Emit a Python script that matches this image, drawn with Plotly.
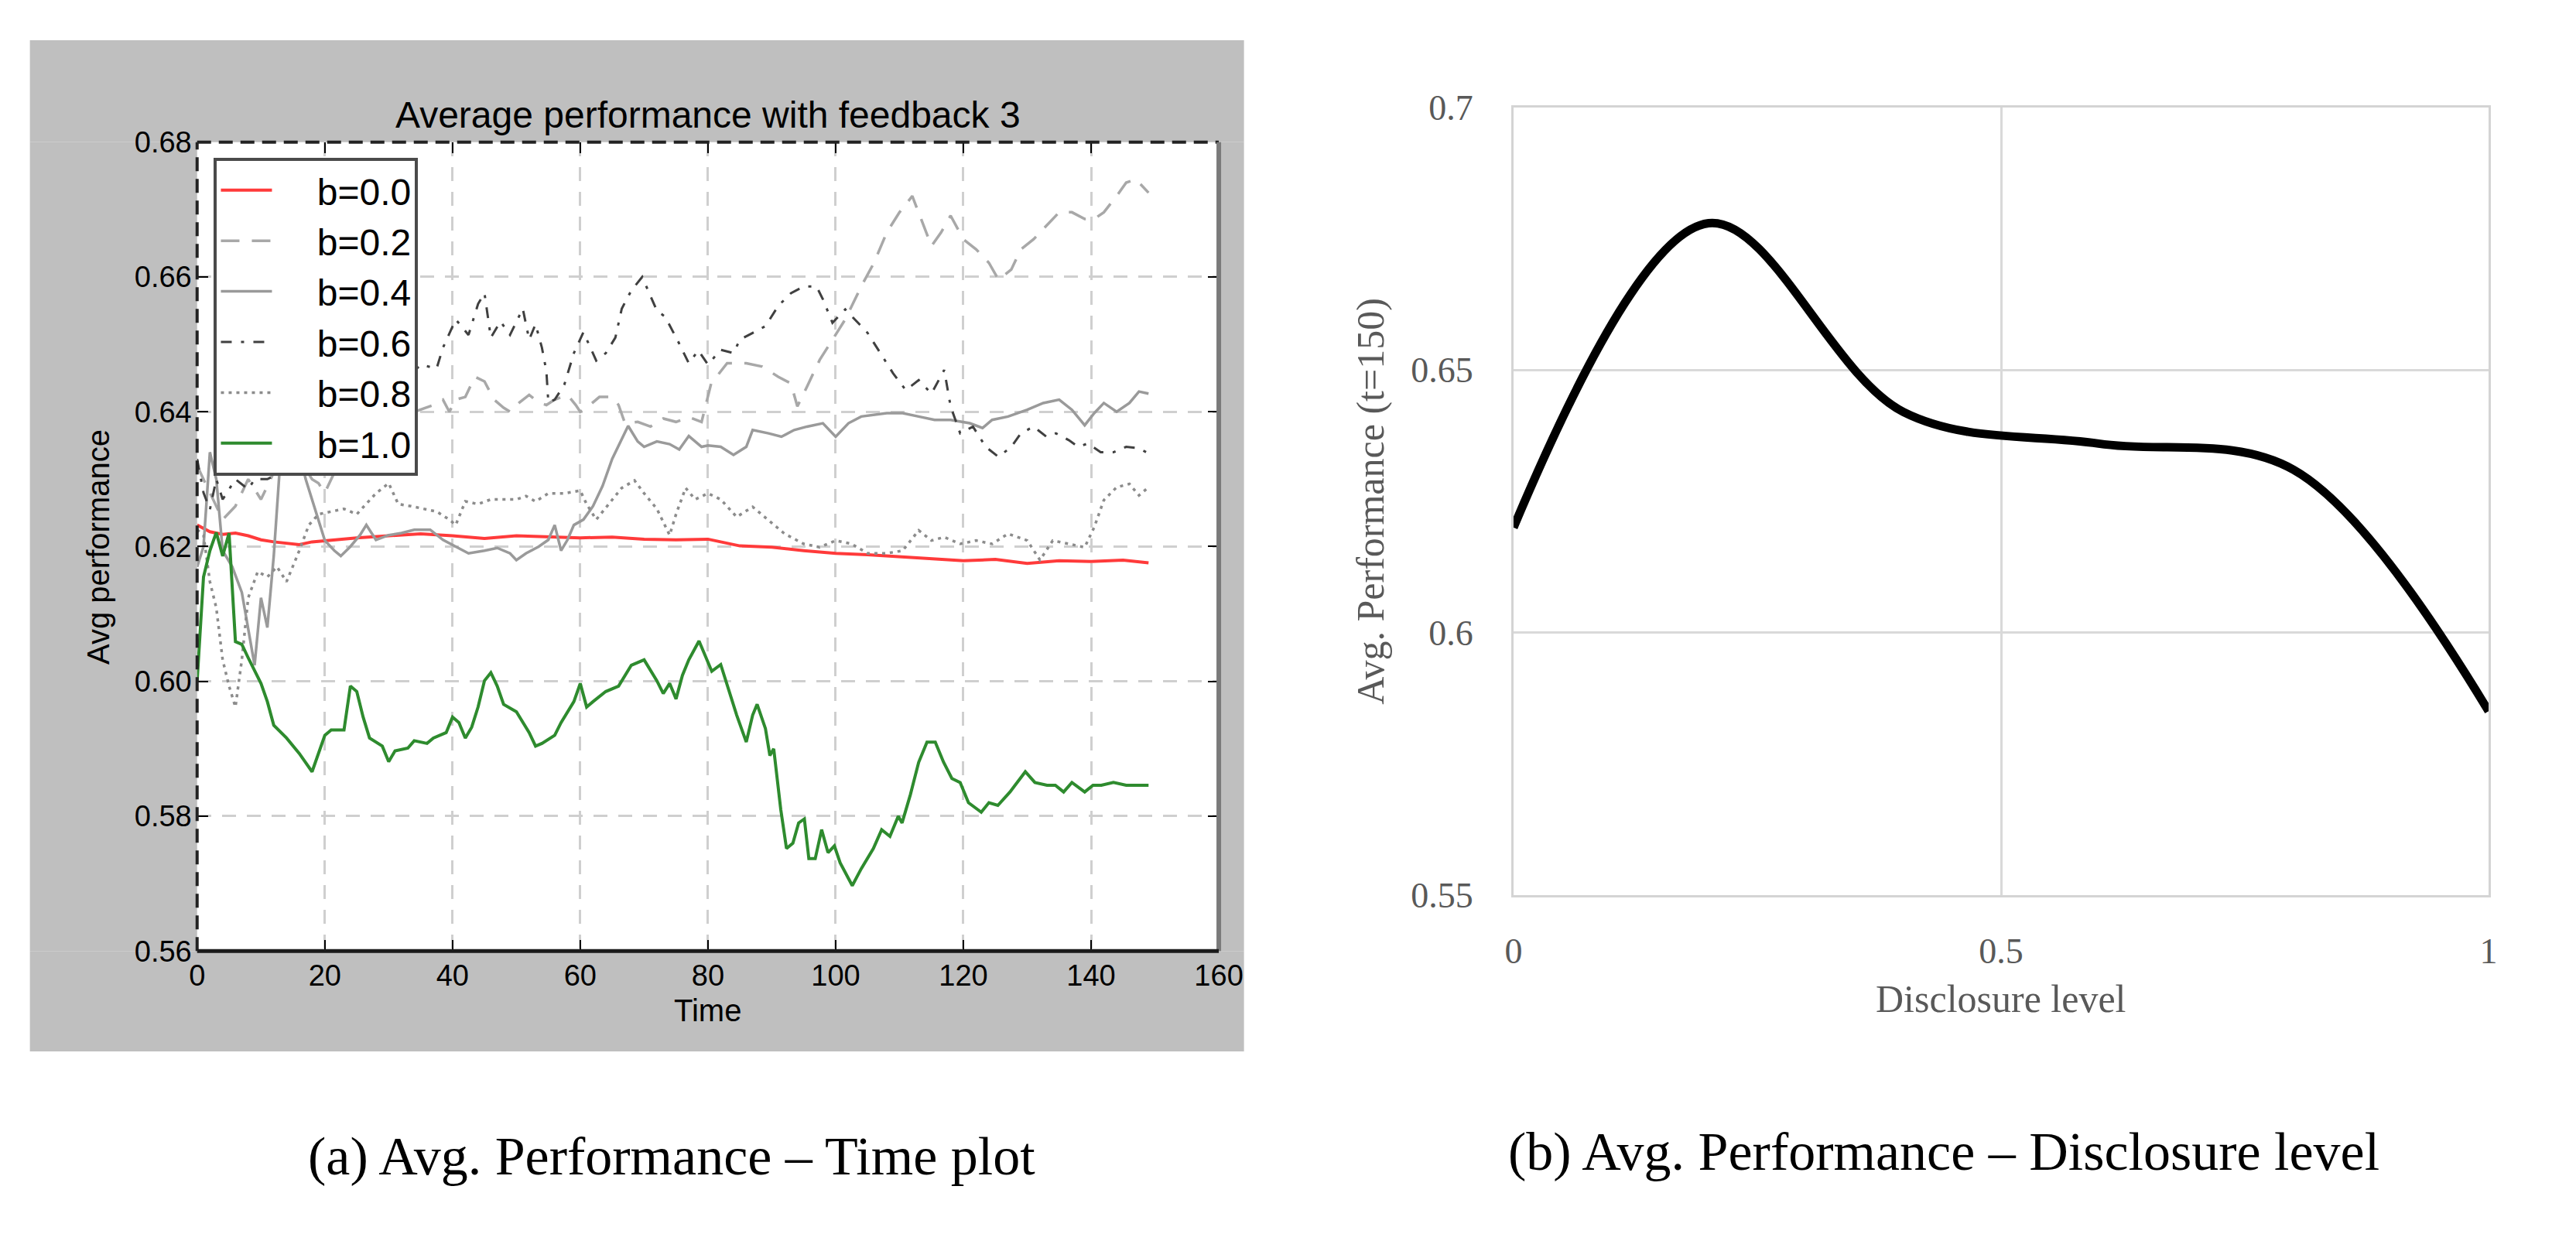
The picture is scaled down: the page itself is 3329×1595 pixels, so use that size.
import plotly.graph_objects as go

# ---------------- data ----------------
B00 = [(0,0.6232),(2,0.6222),(4,0.6218),(6,0.6220),(8,0.6216),(10,0.6210),(12,0.6207),(14,0.6205),
       (16,0.6203),(18,0.6207),(20,0.6209),(25,0.6213),(30,0.6216),(35,0.6219),(40,0.6216),(45,0.6212),
       (50,0.6216),(55,0.6214),(60,0.6213),(65,0.6214),(70,0.6211),(75,0.6210),(80,0.6211),(85,0.6201),
       (90,0.6199),(95,0.6194),(100,0.6190),(105,0.6188),(110,0.6185),(115,0.6183),(120,0.6179),
       (125,0.6181),(130,0.6175),(135,0.6179),(140,0.6178),(145,0.6180),(149,0.6176)]

B02 = [(0,0.632),(2,0.628),(4,0.624),(6,0.626),(8,0.630),(10,0.627),(12,0.631),(14,0.634),(16,0.633),
       (18,0.630),(19,0.6294),(20,0.628),(21.5,0.631),(23.5,0.6313),(26,0.636),(30,0.638),(34,0.640),
       (37,0.641),(38.5,0.6418),(39.5,0.640),(40.5,0.6418),(42,0.6422),(43.5,0.6452),(45,0.6445),
       (46.5,0.6418),(48,0.6406),(49,0.640),(50.5,0.6414),(52,0.6425),(53.5,0.6414),(54.7,0.641),
       (56,0.6418),(58,0.6425),(59.3,0.641),(60,0.640),(61.5,0.641),(63,0.6422),(65,0.6422),(66,0.641),
       (67,0.6383),(69,0.6385),(71,0.6378),(73,0.639),(75,0.6385),(77,0.6392),(79,0.6385),(80.5,0.6442),
       (83,0.6472),(86,0.6472),(88.5,0.6467),(91,0.6452),(93,0.6442),(94,0.6408),(95.5,0.6437),
       (97.5,0.6477),(99.5,0.6507),(101.5,0.6537),(104,0.6586),(106,0.6621),(108,0.6666),(110,0.6696),
       (112,0.672),(113,0.6696),(115,0.6646),(116.5,0.6666),(118,0.6691),(120,0.6656),(122,0.6641),
       (124,0.6621),(125.5,0.6596),(127.5,0.6611),(129,0.6641),(131,0.6656),(133,0.6676),(135,0.6696),
       (137,0.6696),(139,0.6686),(140.5,0.6686),(142,0.6696),(144,0.672),(145.5,0.674),(147,0.6745),
       (149,0.6725)]

B04 = [(0,0.617),(1,0.620),(2,0.634),(3,0.630),(4,0.6194),(5.5,0.617),(7,0.6132),(9,0.6024),(10,0.6124),
       (11,0.608),(12,0.6186),(13,0.6325),(15,0.6348),(16,0.634),(17,0.630),(18.5,0.6256),(20,0.6209),
       (21.5,0.6194),(22.5,0.6186),(24,0.620),(25.5,0.6217),(26.5,0.6232),(28,0.621),(30,0.6217),
       (32,0.622),(34,0.6225),(36.5,0.6225),(38.5,0.621),(40.5,0.620),(42.5,0.619),(45,0.6194),
       (47,0.6198),(49,0.619),(50,0.618),(51.5,0.619),(53.5,0.620),(55,0.621),(56,0.6232),(57,0.6194),
       (58,0.621),(59,0.6232),(60.5,0.624),(62,0.626),(63.5,0.629),(65,0.633),(66.5,0.636),(67.5,0.6379),
       (69,0.6356),(70,0.6348),(72,0.6356),(74,0.6352),(75.5,0.6344),(77,0.6364),(79,0.6348),(80,0.635),
       (82,0.6348),(84,0.6336),(86,0.6348),(87,0.6373),(89.5,0.6368),(91.5,0.6363),(93.5,0.6373),
       (95.5,0.6378),(98,0.6383),(100,0.6363),(102,0.6383),(104,0.6393),(108,0.6398),(110.5,0.6398),
       (113,0.6393),(115.5,0.6388),(118,0.6388),(121,0.6383),(123,0.6376),(124.5,0.6388),(127,0.6393),
       (130,0.6403),(132.5,0.6413),(135,0.6418),(137,0.6403),(139,0.638),(140.5,0.6398),(142,0.6413),
       (144,0.6400),(146,0.6413),(147.5,0.643),(149,0.6427)]

B06 = [(0,0.633),(1,0.628),(2,0.6255),(3,0.630),(4,0.627),(6,0.630),(8,0.6285),(9,0.630),(11,0.630),
       (13,0.631),(15,0.636),(17,0.640),(20,0.642),(23,0.645),(26,0.643),(29,0.646),(32,0.644),(35,0.647),
       (37.5,0.6464),(38.5,0.6495),(40.5,0.6537),(42.5,0.6514),(44,0.656),(45,0.6576),(46,0.651),
       (47.5,0.6534),(49,0.6514),(51,0.6553),(52,0.6507),(53,0.653),(54,0.6495),(54.7,0.646),(55,0.6414),
       (56,0.6418),(57.5,0.644),(59,0.6487),(60.5,0.6518),(62.5,0.6476),(64,0.6487),(65.5,0.651),
       (66.5,0.6553),(68,0.658),(69.7,0.660),(72,0.655),(73.3,0.6541),(75.4,0.6503),(77,0.6472),
       (78.5,0.6491),(80,0.647),(82,0.6492),(84,0.6487),(85,0.6507),(87,0.6517),(89,0.6527),(91,0.6557),
       (93,0.6576),(95,0.6586),(97,0.6586),(98,0.6567),(99.5,0.6532),(101.5,0.6552),(103.5,0.6532),
       (105,0.6517),(107,0.6487),(109,0.6457),(111,0.6432),(113,0.6447),(115,0.6427),(117,0.6462),
       (118,0.6408),(119.5,0.6368),(121.5,0.6378),(123.5,0.6348),(125.5,0.6333),(127.5,0.6348),
       (129,0.6368),(131,0.6378),(133,0.6363),(134.5,0.6368),(136.5,0.6358),(138,0.6348),(139.5,0.6353),
       (141.5,0.634),(143.5,0.634),(145.5,0.6348),(147.5,0.6346),(149,0.6338)]

B08 = [(0,0.6225),(1,0.6217),(2,0.6148),(3,0.6109),(4,0.6032),(5,0.5993),(6,0.5962),(7,0.6032),
       (8,0.6124),(9.5,0.6163),(11,0.6155),(12.5,0.617),(14,0.6148),(16,0.6194),(17.5,0.6232),(19,0.6248),
       (21,0.6252),(23,0.6256),(25,0.6248),(26.5,0.6263),(28,0.6279),(30,0.6294),(31.5,0.6263),
       (33.5,0.626),(35.5,0.6256),(37.5,0.6252),(39.5,0.624),(40.5,0.6232),(42,0.6267),(44,0.6263),
       (46,0.627),(48,0.627),(50,0.627),(51.5,0.6275),(53,0.6267),(55,0.6279),(57.5,0.6279),(60,0.6283),
       (61,0.6263),(62.5,0.624),(64.5,0.6263),(66.5,0.6287),(68.5,0.6298),(70,0.6279),(72,0.6256),
       (74,0.6217),(75,0.6248),(76.5,0.6287),(78,0.627),(80,0.6279),(82,0.627),(84.5,0.6244),(87,0.6259),
       (89.5,0.6239),(92,0.6219),(95,0.6204),(97.5,0.6199),(100,0.6209),(102.5,0.6204),(105,0.619),
       (108,0.619),(110.5,0.6194),(113,0.6224),(115,0.6209),(117,0.6214),(119.5,0.6204),(122,0.6209),
       (124.5,0.6204),(127,0.6219),(130,0.6209),(132,0.618),(134,0.6209),(136.5,0.6204),(139,0.6199),
       (140.5,0.6229),(142,0.6269),(144,0.6288),(146,0.6293),(147.5,0.6276),(149,0.6288)]

B10 = [(0,0.600),(1,0.6155),(2,0.6194),(3,0.6221),(4,0.6186),(5,0.622),(6,0.6059),(7,0.6055),(8,0.6035),
       (9,0.6016),(10,0.5997),(11,0.5970),(12,0.5935),(14,0.5916),(16,0.5893),(18,0.5866),(19,0.5893),
       (20,0.5920),(21,0.5928),(23,0.5928),(24,0.5993),(25,0.5985),(26,0.5947),(27,0.5916),(29,0.5904),
       (30,0.5881),(31,0.5897),(33,0.5901),(34,0.5912),(36,0.5908),(37,0.5916),(39,0.5924),(40,0.5947),
       (41,0.5939),(42,0.5916),(43,0.5932),(44,0.5962),(45,0.6001),(46,0.6013),(47,0.5993),(48,0.5966),
       (50,0.5955),(52,0.5924),(53,0.5904),(54,0.5908),(56,0.5920),(57,0.5939),(59,0.5970),(60,0.5997),
       (61,0.5962),(62,0.5970),(64,0.5985),(66,0.5993),(68,0.6024),(70,0.6032),(72,0.6001),(73,0.5982),
       (74,0.5997),(75,0.5974),(76,0.6009),(77,0.6032),(78.6,0.606),(80.6,0.6015),(82,0.6025),
       (84.5,0.595),(86,0.591),(87,0.595),(87.7,0.5966),(89,0.593),(89.7,0.589),(90.3,0.590),(91.4,0.581),
       (92.3,0.5752),(93.3,0.576),(94.2,0.579),(95.1,0.5796),(95.8,0.5737),(96.8,0.5737),(97.8,0.578),
       (98.8,0.5746),(99.8,0.5756),(100.7,0.5731),(102.6,0.5697),(104,0.5722),(105.9,0.5752),
       (107.2,0.578),(108.5,0.577),(109.8,0.580),(110.4,0.579),(111.7,0.5832),(113,0.588),(114.3,0.591),
       (115.6,0.591),(116.9,0.588),(118.2,0.5856),(119.5,0.585),(120.8,0.582),(122.8,0.5806),(124,0.582),
       (125.4,0.5816),(127.3,0.5836),(129.7,0.5866),(131.2,0.585),(133.1,0.5846),(134.4,0.5846),
       (135.7,0.5836),(137,0.585),(139,0.5836),(140.3,0.5846),(141.6,0.5846),(143.5,0.585),(145.5,0.5846),
       (147.4,0.5846),(149,0.5846)]

SERIES_NAMES = ["b=0.0", "b=0.2", "b=0.4", "b=0.6", "b=0.8", "b=1.0"]

TIME_TICKS = [0, 20, 40, 60, 80, 100, 120, 140, 160]
PERF_TICKS = [0.56, 0.58, 0.60, 0.62, 0.64, 0.66, 0.68]

DISCLOSURE = [0.0, 0.2, 0.4, 0.6, 0.8, 1.0]
PERF_T150 = [0.620, 0.678, 0.642, 0.636, 0.631, 0.585]
DISC_TICKS = [0, 0.5, 1]
DISC_TICK_TEXT = ["0", "0.5", "1"]
PERF2_TICKS = [0.55, 0.6, 0.65, 0.7]
PERF2_TICK_TEXT = ["0.55", "0.6", "0.65", "0.7"]

# ---------------- styling ----------------
W, H = 3329, 1595
SANS = "Liberation Sans, Arial, sans-serif"
SERIF = "Liberation Serif, Times New Roman, serif"
GRAY_TXT = "#595959"
PANEL = "#bfbfbf"
LEGEND_GAP = "\u00a0" * 4   # visual gap between legend line sample and label

styles = [
    dict(color="#ff3a3a", width=4, dash="solid"),
    dict(color="#a8a8a8", width=3.5, dash="24px,16px"),
    dict(color="#9a9a9a", width=3.5, dash="solid"),
    dict(color="#404040", width=3, dash="14px,12px,4px,12px"),
    dict(color="#8c8c8c", width=3.5, dash="4px,6px"),
    dict(color="#2e8b2e", width=4, dash="solid"),
]

def px_x(p):
    return p / W

def px_y(p):
    return 1 - p / H

fig = go.Figure()

for name, data, st in zip(SERIES_NAMES, [B00, B02, B04, B06, B08, B10], styles):
    fig.add_trace(go.Scatter(
        x=[d[0] for d in data], y=[d[1] for d in data], mode="lines", name=LEGEND_GAP + name,
        line=st, xaxis="x", yaxis="y", showlegend=True,
    ))

fig.add_trace(go.Scatter(
    x=DISCLOSURE, y=PERF_T150, mode="lines", line=dict(color="black", width=11, shape="spline", smoothing=1.0),
    xaxis="x2", yaxis="y2", showlegend=False,
))

left_grid = dict(showgrid=True, gridcolor="#cfcfcf", gridwidth=3, griddash="18px,14px")
fig.update_layout(
    width=W, height=H, margin=dict(l=0, r=0, t=0, b=0),
    paper_bgcolor="white", plot_bgcolor="white",
    xaxis=dict(domain=[px_x(246), px_x(1584)], range=[0, 160], tickvals=TIME_TICKS,
               ticktext=[str(v) for v in TIME_TICKS],
               ticks="inside", ticklen=14, tickwidth=2, tickcolor="black", mirror="ticks",
               showline=False, zeroline=False, tickfont=dict(family=SANS, size=38, color="black"),
               ticklabelstandoff=6, anchor="y", **left_grid),
    yaxis=dict(domain=[px_y(1244), px_y(164)], range=[0.56, 0.68], tickvals=PERF_TICKS,
               ticktext=["%.2f" % v for v in PERF_TICKS],
               ticks="inside", ticklen=14, tickwidth=2, tickcolor="black", mirror="ticks",
               showline=False, zeroline=False, tickfont=dict(family=SANS, size=38, color="black"),
               ticklabelstandoff=6, anchor="x", **left_grid),
    xaxis2=dict(domain=[px_x(1970), px_x(3247)], range=[0, 1], tickvals=DISC_TICKS, ticktext=DISC_TICK_TEXT,
                ticks="", showline=True, mirror=True, linecolor="#d4d4d4", linewidth=3,
                showgrid=True, gridcolor="#d9d9d9", gridwidth=2.5, zeroline=False,
                tickfont=dict(family=SERIF, size=46, color=GRAY_TXT), ticklabelstandoff=30, anchor="y2"),
    yaxis2=dict(domain=[px_y(1169), px_y(118)], range=[0.55, 0.7], tickvals=PERF2_TICKS, ticktext=PERF2_TICK_TEXT,
                ticks="", showline=True, mirror=True, linecolor="#d4d4d4", linewidth=3,
                showgrid=True, gridcolor="#d9d9d9", gridwidth=2.5, zeroline=False,
                tickfont=dict(family=SERIF, size=46, color=GRAY_TXT), ticklabelstandoff=40, anchor="x2"),
    legend=dict(x=px_x(268), y=px_y(185), xanchor="left", yanchor="top", bgcolor="white",
                bordercolor="#4a4a4a", borderwidth=4, font=dict(family=SANS, size=48, color="black"),
                itemwidth=66, traceorder="normal"),
    showlegend=True,
)

# grey figure panel behind the left chart, drawn as a frame around the white plot area
panel_rects = [
    (27, 1617, 28, 164),     # top band
    (27, 1617, 1244, 1378),  # bottom band
    (27, 246, 164, 1244),    # left band
    (1584, 1617, 164, 1244), # right band
]
for x0, x1, y0, y1 in panel_rects:
    fig.add_shape(type="rect", xref="paper", yref="paper", x0=px_x(x0), x1=px_x(x1), y0=px_y(y1), y1=px_y(y0),
                  fillcolor=PANEL, line=dict(width=0), layer="below")

# left frame (spines)
fig.add_shape(type="line", xref="x domain", yref="y domain", x0=0, x1=1, y0=1, y1=1,
              line=dict(color="#222222", width=4, dash="18px,10px"), layer="above")
fig.add_shape(type="line", xref="x domain", yref="y domain", x0=0, x1=0, y0=0, y1=1,
              line=dict(color="#222222", width=4, dash="18px,10px"), layer="above")
fig.add_shape(type="line", xref="x domain", yref="y domain", x0=1, x1=1, y0=0, y1=1,
              line=dict(color="#7a7a7a", width=6), layer="above")
fig.add_shape(type="line", xref="x domain", yref="y domain", x0=0, x1=1, y0=0, y1=0,
              line=dict(color="#1a1a1a", width=5), layer="above")

annotations = [
    dict(text="Average performance with feedback 3", x=px_x(915), y=px_y(128),
         font=dict(family=SANS, size=48, color="black")),
    dict(text="Time", x=px_x(915), y=px_y(1323), font=dict(family=SANS, size=40, color="black")),
    dict(text="Avg performance", x=px_x(117), y=px_y(704), textangle=-90,
         font=dict(family=SANS, size=40, color="black")),
    dict(text="Disclosure level", x=px_x(2608), y=px_y(1308), font=dict(family=SERIF, size=50, color=GRAY_TXT)),
    dict(text="Avg. Performance (t=150)", x=px_x(1783), y=px_y(643), textangle=-90,
         font=dict(family=SERIF, size=50, color=GRAY_TXT)),
    dict(text="(a) Avg. Performance \u2013 Time plot", x=px_x(867), y=px_y(1518),
         font=dict(family=SERIF, size=70, color="black")),
    dict(text="(b) Avg. Performance \u2013 Disclosure level", x=px_x(2533), y=px_y(1512),
         font=dict(family=SERIF, size=70, color="black")),
]
for a in annotations:
    fig.add_annotation(xref="paper", yref="paper", showarrow=False, xanchor="center", yanchor="middle", **a)

fig.write_html("out.html", config={"displayModeBar": False},
               post_script="document.body.style.margin='0';document.body.style.overflow='hidden';")
